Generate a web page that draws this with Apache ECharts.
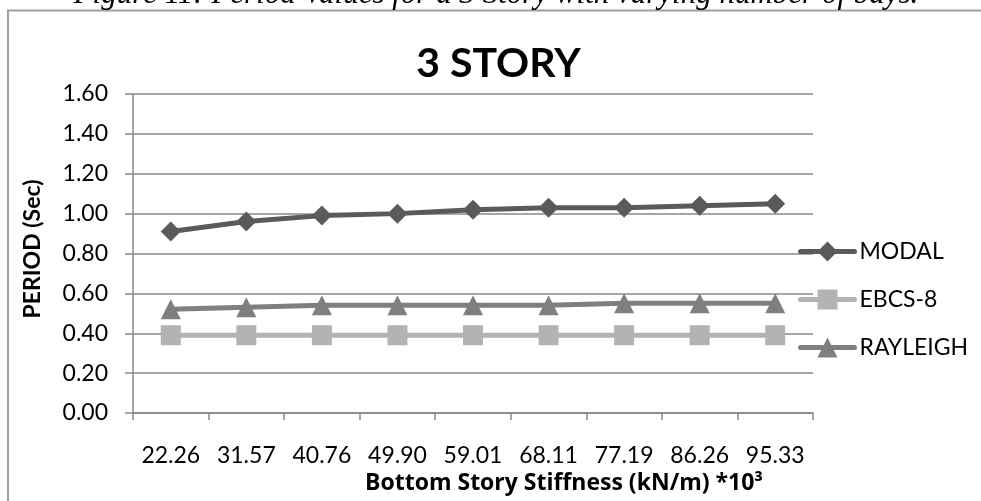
<!DOCTYPE html>
<html>
<head>
<meta charset="utf-8">
<script src="https://cdn.jsdelivr.net/npm/echarts@6/dist/echarts.min.js"></script>
<style>
  html, body { margin: 0; padding: 0; background: #ffffff; }
  #chart { width: 981px; height: 501px; }
</style>
</head>
<body>
<div id="chart"></div>
<script>
// Bottom story stiffness (kN/m ×10^3) for each model variant
const categories = ['22.26', '31.57', '40.76', '49.90', '59.01', '68.11', '77.19', '86.26', '95.33'];

// Fundamental period (s) by method
const modal    = [0.91, 0.96, 0.99, 1.00, 1.02, 1.03, 1.03, 1.04, 1.05];
const ebcs8    = [0.39, 0.39, 0.39, 0.39, 0.39, 0.39, 0.39, 0.39, 0.39];
const rayleigh = [0.52, 0.53, 0.54, 0.54, 0.54, 0.54, 0.55, 0.55, 0.55];

const seriesNames = ['MODAL', 'EBCS-8', 'RAYLEIGH'];

// Period axis range
const yMin = 0;
const yMax = 1.6;
const yStep = 0.2;

const FONT = 'Lato';
const AXIS_GREY = '#888888';

const chart = echarts.init(document.getElementById('chart'), null, { renderer: 'canvas' });

chart.setOption({
  animation: false,
  backgroundColor: '#ffffff',
  grid: { left: 133, right: 168, top: 94, bottom: 88, containLabel: false },
  xAxis: {
    type: 'category',
    data: categories,
    boundaryGap: true,
    axisLine: { show: true, lineStyle: { color: AXIS_GREY, width: 1.5 } },
    axisTick: { show: true, length: 7, alignWithLabel: false, lineStyle: { color: AXIS_GREY, width: 1.5 } },
    axisLabel: { margin: 31, fontFamily: FONT, fontSize: 23, color: '#000000', interval: 0 },
    splitLine: { show: false }
  },
  yAxis: {
    type: 'value',
    min: yMin,
    max: yMax,
    interval: yStep,
    axisLine: { show: true, lineStyle: { color: AXIS_GREY, width: 1.5 } },
    axisTick: { show: true, length: 8, lineStyle: { color: AXIS_GREY, width: 1.5 } },
    axisLabel: {
      margin: 25,
      fontFamily: FONT,
      fontSize: 23,
      color: '#000000',
      formatter: (v) => v.toFixed(2)
    },
    splitLine: { show: true, lineStyle: { color: AXIS_GREY, width: 1.5 } }
  },
  legend: {
    orient: 'vertical',
    left: 793,
    top: 234,
    padding: 5,
    itemWidth: 54,
    itemHeight: 25,
    itemGap: 23,
    data: seriesNames,
    lineStyle: { width: 5, cap: 'round' },
    textStyle: { fontFamily: FONT, fontSize: 23, color: '#000000', lineHeight: 25 }
  },
  series: [
    {
      name: seriesNames[0],
      type: 'line',
      data: modal,
      symbol: 'diamond',
      symbolSize: 20,
      z: 4,
      lineStyle: { color: '#5a5a5a', width: 5 },
      itemStyle: { color: '#5a5a5a', borderWidth: 0 }
    },
    {
      name: seriesNames[1],
      type: 'line',
      data: ebcs8,
      symbol: 'rect',
      symbolSize: 20,
      z: 2,
      lineStyle: { color: '#b3b3b3', width: 5 },
      itemStyle: { color: '#b3b3b3', borderWidth: 0 }
    },
    {
      name: seriesNames[2],
      type: 'line',
      data: rayleigh,
      symbol: 'triangle',
      symbolSize: 20,
      z: 3,
      lineStyle: { color: '#7f7f7f', width: 5 },
      itemStyle: { color: '#7f7f7f', borderWidth: 0 }
    }
  ],
  graphic: [
    // chart frame
    {
      type: 'rect',
      shape: { x: 8, y: 10.5, width: 1000, height: 600 },
      style: { fill: 'none', stroke: '#a0a0a0', lineWidth: 2 },
      silent: true
    },
    // figure caption above the frame
    {
      type: 'text',
      x: 496,
      y: -5,
      style: {
        text: 'Figure 11: Period Values for a 3 Story with varying number of bays.',
        font: 'italic 31px "Liberation Serif"',
        fill: '#000000',
        align: 'center',
        verticalAlign: 'middle'
      },
      silent: true
    },
    // chart title
    {
      type: 'text',
      x: 498.5,
      y: 63.5,
      style: {
        text: '3 STORY',
        font: 'bold 41px Lato',
        fill: '#000000',
        align: 'center',
        verticalAlign: 'middle'
      },
      silent: true
    },
    // y-axis title
    {
      type: 'text',
      x: 33,
      y: 249,
      rotation: Math.PI / 2,
      style: {
        text: 'PERIOD (Sec)',
        font: 'bold 23px Lato',
        fill: '#000000',
        align: 'center',
        verticalAlign: 'middle'
      },
      silent: true
    },
    // x-axis title
    {
      type: 'text',
      x: 365,
      y: 483,
      style: {
        text: 'Bottom Story Stiffness (kN/m) *10³',
        font: 'bold 23px "Open Sans"',
        fill: '#000000',
        align: 'left',
        verticalAlign: 'middle'
      },
      silent: true
    }
  ]
});
</script>
</body>
</html>
